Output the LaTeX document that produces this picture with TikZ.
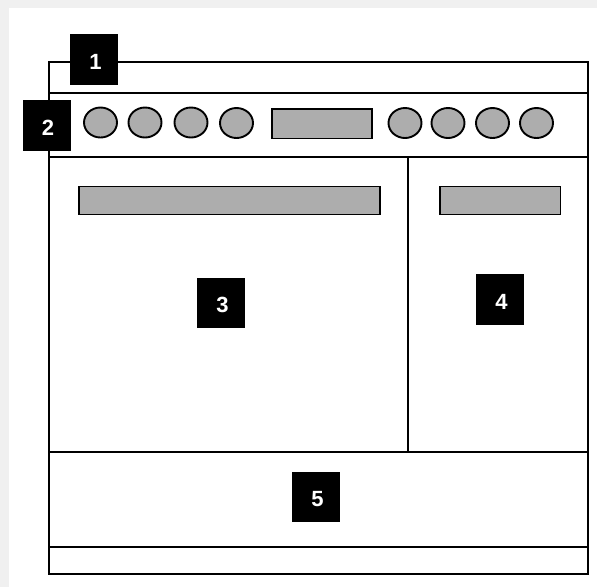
\documentclass[tikz,border=0pt]{standalone}
\usepackage{fontspec}
\setmainfont{Liberation Sans}
\newcommand{\tagtext}[1]{\hspace{3pt}#1}
\tikzset{
  x=1pt,y=-1pt,
  unit/.style={draw=black,line width=2pt,fill=white,sharp corners},
  partline/.style={draw=black,line width=2pt},
  knob/.style={draw=black,line width=1.9pt,fill=knobgray},
  panel/.style={draw=black,line width=1.9pt,fill=knobgray},
  tag/.style={fill=black,text=white,font=\fontsize{22}{22}\selectfont\bfseries,inner sep=0pt,text height=19pt,text depth=0pt,minimum width=48pt,minimum height=50.5pt,anchor=center}
}
\definecolor{knobgray}{HTML}{ADADAD}
\definecolor{pagegray}{HTML}{F0F0F0}
\begin{document}
\begin{tikzpicture}
\useasboundingbox (0,0) rectangle (597,587);
\fill[pagegray] (0,0) rectangle (597,587);
\fill[white] (9,8) rectangle (597,587);
% body
\coordinate (tl) at (48.5,62);
\coordinate (br) at (588,573.5);
\draw[unit] (tl) rectangle (br);
\coordinate (a1) at (48.5,93);   \coordinate (a2) at (588,93);
\coordinate (b1) at (48.5,156.5);\coordinate (b2) at (588,156.5);
\coordinate (c1) at (48.5,452);  \coordinate (c2) at (588,452);
\coordinate (d1) at (48.5,546.5);\coordinate (d2) at (588,546.5);
\coordinate (v1) at (408,156.5); \coordinate (v2) at (408,452);
\draw[partline] (a1) -- (a2);
\draw[partline] (b1) -- (b2);
\draw[partline] (c1) -- (c2);
\draw[partline] (d1) -- (d2);
\draw[partline] (v1) -- (v2);
% knobs
\foreach \cx/\cy in {100.5/122.5,145/122.5,191/122.5,236.5/123,405/123,448/123,492.5/123,536.5/123}
  \draw[knob] (\cx,\cy) ellipse [x radius=16.5, y radius=15];
% panels
\draw[panel] (272,109) rectangle (372,138.5);
\draw[panel] (79,186.5) rectangle (380,214.5);
\draw[panel] (440,186.5) rectangle (560.5,214.5);
% tags
\node[tag] (t1) at (94,59.5) {\tagtext{1}};
\node[tag] (t2) at (46.5,125.5) {\tagtext{2}};
\node[tag] (t3) at (221,303) {\tagtext{3}};
\node[tag] (t4) at (500,299.5) {\tagtext{4}};
\node[tag] (t5) at (316,497) {\tagtext{5}};
\end{tikzpicture}
\end{document}
